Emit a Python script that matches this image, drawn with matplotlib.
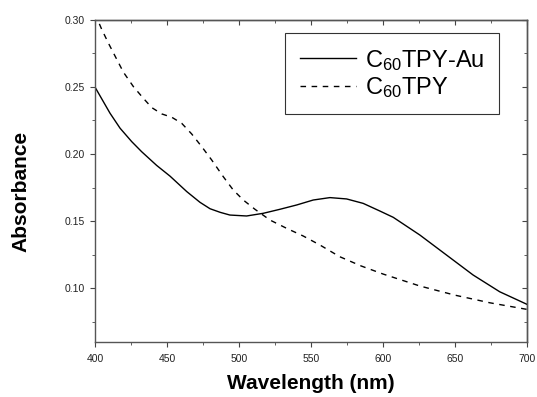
import matplotlib
matplotlib.use("Agg")
import matplotlib.pyplot as plt
from matplotlib.ticker import MultipleLocator, FormatStrFormatter

plt.rcParams['font.family'] = ['Liberation Sans', 'DejaVu Sans']
plt.rcParams['mathtext.fontset'] = 'custom'
plt.rcParams['mathtext.rm'] = 'Liberation Sans'
plt.rcParams['mathtext.it'] = 'Liberation Sans'

# Spectra
wl_au = [400, 410.4, 417.4, 425.5, 432.4, 442.8, 452.1, 463.7, 472.9, 479.9, 487, 493.7,
         505.3, 516.9, 528.5, 540.1, 551.6, 563.2, 574.8, 586.3, 597.9, 607.2, 625.7,
         644.2, 662.7, 681.2, 700]
abs_au = [0.2498, 0.2304, 0.2192, 0.2092, 0.2017, 0.1915, 0.1835, 0.1720, 0.1640, 0.1592,
          0.1565, 0.1545, 0.1538, 0.1558, 0.1588, 0.162, 0.1657, 0.1675, 0.1665, 0.1632,
          0.1575, 0.1528, 0.1396, 0.1247, 0.1098, 0.0973, 0.0880]

wl_tpy = [403, 404.6, 409.3, 412.7, 419.7, 426.6, 433.5, 439.4, 446.3, 453.3, 460.2, 467.1,
          474.1, 481, 489.1, 496, 503, 511.1, 521.5, 533.1, 544.6, 556.2, 570.1, 585,
          600.2, 625.7, 650, 674.3, 700]
abs_tpy = [0.297, 0.293, 0.2826, 0.2755, 0.2610, 0.2503, 0.2416, 0.2346, 0.2299, 0.2274,
           0.2229, 0.215, 0.2055, 0.1956, 0.1831, 0.1732, 0.1657, 0.1588, 0.1508, 0.1446,
           0.1389, 0.1322, 0.1234, 0.1165, 0.1105, 0.1016, 0.0948, 0.0891, 0.0842]

fig = plt.figure(figsize=(5.37, 3.97), dpi=100)
ax = fig.add_axes([0.177, 0.139, 0.804, 0.811])

ax.plot(wl_au, abs_au, color='black', lw=1.0, label=r'C$_{60}$TPY-Au')
ax.plot(wl_tpy, abs_tpy, color='black', lw=1.0, ls=(0, (4, 4)), label=r'C$_{60}$TPY')

ax.set_xlim(400, 700)
ax.set_ylim(0.06, 0.30)
ax.xaxis.set_major_locator(MultipleLocator(50))
ax.xaxis.set_minor_locator(MultipleLocator(25))
ax.yaxis.set_major_locator(MultipleLocator(0.05))
ax.yaxis.set_minor_locator(MultipleLocator(0.025))
ax.yaxis.set_major_formatter(FormatStrFormatter('%.2f'))
ax.tick_params(which='both', direction='out', labelsize=7.5, color='#444444',
               labelcolor='#222222')
ax.tick_params(which='major', length=3.5, pad=4)
ax.tick_params(which='minor', length=2.5)
ax.tick_params(axis='x', which='major', pad=5)

# inward ticks on top and right, no labels
top = ax.secondary_xaxis('top')
top.xaxis.set_major_locator(MultipleLocator(50))
top.xaxis.set_minor_locator(MultipleLocator(25))
top.tick_params(which='both', direction='in', labeltop=False, color='#444444')
top.tick_params(which='major', length=3.5)
top.tick_params(which='minor', length=2.5)
right = ax.secondary_yaxis('right')
right.yaxis.set_major_locator(MultipleLocator(0.05))
right.yaxis.set_minor_locator(MultipleLocator(0.025))
right.tick_params(which='both', direction='in', labelright=False, color='#444444')
right.tick_params(which='major', length=3.5)
right.tick_params(which='minor', length=2.5)

for a in (ax, top, right):
    for s in a.spines.values():
        s.set_color('#555555')
        s.set_linewidth(1.0)

ax.set_xlabel('Wavelength (nm)', fontsize=15, fontweight='bold')
ax.xaxis.set_label_coords(0.5, -0.1)
ax.set_ylabel('Absorbance', fontsize=15, fontweight='bold')
ax.yaxis.set_label_coords(-0.15, 0.466)

leg = ax.legend(loc='upper left', bbox_to_anchor=(285 / 537, 1 - 33 / 397),
                bbox_transform=fig.transFigure, borderaxespad=0, fontsize=17,
                frameon=True, fancybox=False, handlelength=2.4, handletextpad=0.35,
                borderpad=0.62, labelspacing=0.1)
leg.get_frame().set_edgecolor('black')
leg.get_frame().set_linewidth(0.8)

fig.savefig('out.png', dpi=100)
